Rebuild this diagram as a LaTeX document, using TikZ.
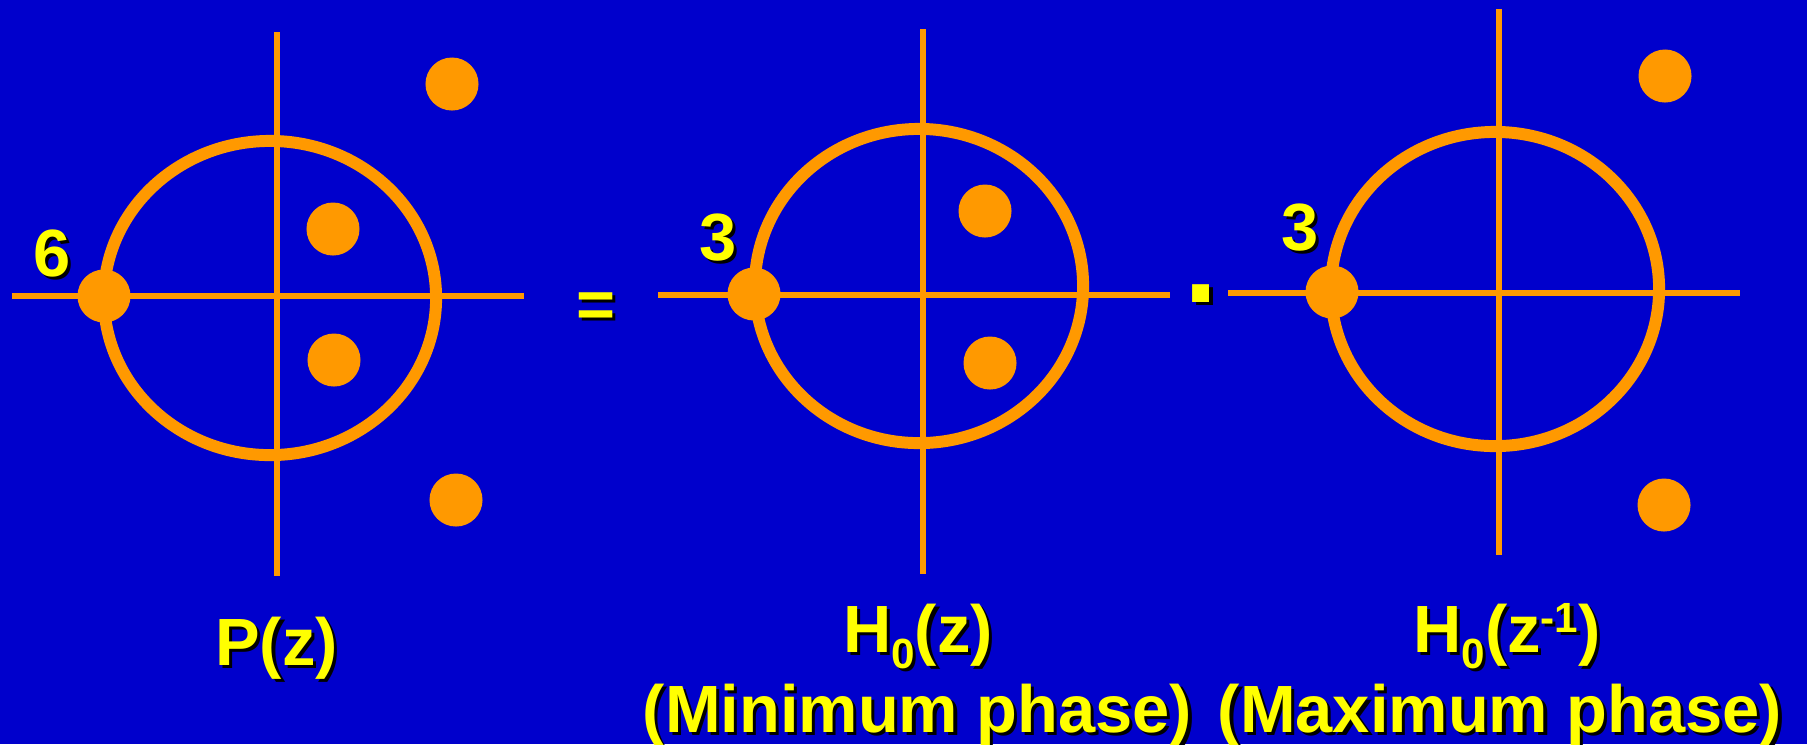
\documentclass[tikz,border=0pt]{standalone}
\usepackage{fontspec}
\setmainfont{Liberation Sans}
\definecolor{slideblue}{RGB}{0,0,204}
\definecolor{zorange}{RGB}{255,153,0}
\definecolor{zyellow}{RGB}{255,255,0}
\newcommand{\shadowed}[1]{\leavevmode\rlap{\kern0.9pt\raisebox{-0.9pt}{\color{black}#1}}#1}
\newcommand{\lowidx}[1]{\raisebox{-0.24em}{\fontsize{12}{12}\selectfont #1}}
\newcommand{\highidx}[1]{\raisebox{0.29em}{\fontsize{12}{12}\selectfont #1}}

\begin{document}
\begin{tikzpicture}[
            x=0.01cm,
            y=-0.01cm,
            axis/.style={zorange, line width=1.7pt},
            zcircle/.style={zorange, line width=3.4pt},
            point/.style={circle, fill=zorange, inner sep=0pt, minimum size=0.53cm},
            lbl/.style={text=zyellow, inner sep=0pt, font=\bfseries\fontsize{19}{21}\selectfont}
        ]
        \fill[slideblue] (0,0) rectangle (1807,744);
        \useasboundingbox (0,0) rectangle (1807,744);

        % P(z)
        \coordinate (PC) at (270,298);
        \draw[zcircle] (PC) ellipse [x radius=1.66cm, y radius=1.57cm];
        \draw[axis] (276.6,32) -- (276.6,576);
        \draw[axis] (11.5,296) -- (524,296);
        \node[point] (p1) at (452,84) {};
        \node[point] (p2) at (333,229) {};
        \node[point] (p3) at (334,360) {};
        \node[point] (p4) at (456,500) {};
        \node[point] (p5) at (104,296) {};
        \node[lbl] (m6) at (52,255) {\shadowed{6}};
        \node[lbl, anchor=base] (Pz) at (276.5,665) {\shadowed{P(z)}};

        \node[lbl, anchor=base] (eq) at (596,327) {\shadowed{=}};

        % H0(z)
        \coordinate (HC) at (919,286);
        \draw[zcircle] (HC) ellipse [x radius=1.64cm, y radius=1.57cm];
        \draw[axis] (923,29) -- (923,574);
        \draw[axis] (658,295) -- (1170,295);
        \node[point] (h1) at (985,211) {};
        \node[point] (h2) at (990,363) {};
        \node[point] (h3) at (754,294) {};
        \node[lbl] (m3a) at (718,239) {\shadowed{3}};
        \node[lbl, anchor=base] (Hz) at (918,652) {\shadowed{H\lowidx{0}(z)}};
        \node[lbl, anchor=base] (minph) at (917.5,732) {\shadowed{(Minimum phase)}};

        \node[lbl, anchor=base, font=\bfseries\fontsize{34}{34}\selectfont] (dot) at (1201.5,302) {\shadowed{.}};

        % H0(z^-1)
        \coordinate (GC) at (1495,289);
        \draw[zcircle] (GC) ellipse [x radius=1.64cm, y radius=1.57cm];
        \draw[axis] (1499,9) -- (1499,555);
        \draw[axis] (1228,293) -- (1740,293);
        \node[point] (g1) at (1665,76) {};
        \node[point] (g2) at (1664,505) {};
        \node[point] (g3) at (1332,292) {};
        \node[lbl] (m3b) at (1300,229) {\shadowed{3}};
        \node[lbl, anchor=base] (Hzi) at (1507,652) {\shadowed{H\lowidx{0}(z\highidx{-1})}};
        \node[lbl, anchor=base] (maxph) at (1500,732) {\shadowed{(Maximum phase)}};
    \end{tikzpicture}
\end{document}
